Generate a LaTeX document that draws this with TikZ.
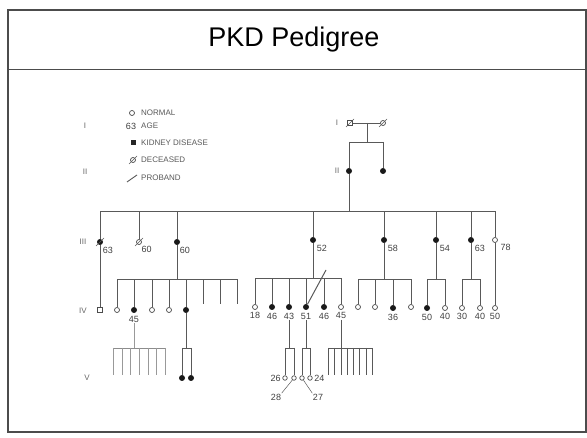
\documentclass[tikz,border=0pt]{standalone}
\usepackage{fontspec}
\setmainfont{Liberation Sans}
\setsansfont{Liberation Sans}
\usetikzlibrary{positioning}
\tikzset{
  kin/.style={draw=black!65,line width=0.9pt},
  normal/.style={circle,draw=black!70,fill=white,line width=0.7pt,inner sep=0pt,minimum size=5pt},
  small/.style={normal,minimum size=4.5pt},
  affected/.style={circle,fill=black!90,inner sep=0pt,minimum size=6pt},
  boxnormal/.style={rectangle,draw=black!70,fill=white,line width=0.7pt,inner sep=0pt,minimum size=5pt},
  dead/.style={append after command={([shift={(-4pt,-4pt)}]\tikzlastnode.center) edge[kin,line width=0.6pt] ([shift={(4pt,4pt)}]\tikzlastnode.center)}},
  age/.style={font=\fontsize{9}{9}\selectfont,text=black!75,inner sep=0.5pt},
  gen/.style={font=\fontsize{8}{9}\selectfont,text=black!60},
  key/.style={font=\fontsize{8}{9}\selectfont,text=black!65,anchor=west,inner sep=0pt},
}
\begin{document}
\begin{tikzpicture}[x=1pt,y=-1pt]
  \useasboundingbox (0,0) rectangle (587,438);
  % frame and title
  \draw[line width=1.5pt,black!70] (8,10) rectangle (586,432);
  \draw[line width=1pt,black!70] (8,70) -- (586,70);
  \node (title) at (294,40) {\fontsize{27}{32}\selectfont PKD Pedigree};

  % legend
  \node[normal] (lgn) at (132,113) {};
  \node[key] (lgnt) at (141,113) {NORMAL};
  \node[age] (lga) at (131,126) {63};
  \node[key] (lgat) at (141,126) {AGE};
  \node[rectangle,fill=black!85,inner sep=0pt,minimum size=5pt] (lgk) at (133,143) {};
  \node[key] (lgkt) at (141,143) {KIDNEY DISEASE};
  \node[normal,dead] (lgd) at (133,160) {};
  \node[key] (lgdt) at (141,160) {DECEASED};
  \coordinate (lgp1) at (127,182);
  \coordinate (lgp2) at (137,175);
  \draw[kin] (lgp1) -- (lgp2);
  \node[key] (lgpt) at (141,178) {PROBAND};
  \node[gen] (gI) at (85,126) {I};
  \node[gen] (gII) at (85,172) {II};

  % generation I and II
  \node[gen] (lI) at (337,123) {I};
  \node[boxnormal,dead] (i1) at (350,123) {};
  \node[normal,dead] (i2) at (383,123) {};
  \coordinate (m1) at (367,123);
  \coordinate (b2l) at (349,142);
  \coordinate (b2r) at (383,142);
  \node[gen] (lII) at (337,171) {II};
  \node[affected] (ii1) at (349,171) {};
  \node[affected] (ii2) at (383,171) {};
  \draw[kin] (i1) -- (i2);
  \draw[kin] (m1) -- (m1 |- b2l);
  \draw[kin] (b2l) -- (b2r);
  \draw[kin] (b2l) -- (ii1);
  \draw[kin] (b2r) -- (ii2);

  % generation III
  \coordinate (b3l) at (100,211);
  \coordinate (b3r) at (495,211);
  \draw[kin] (b3l) -- (b3r);
  \draw[kin] (ii1) -- (ii1 |- b3l);
  \node[gen] (lIII) at (83,242) {III};
  \node[affected,dead] (iii1) at (100,242) {};
  \node[normal,dead] (iii2) at (139,242) {};
  \node[affected] (iii3) at (177,242) {};
  \node[affected] (iii4) at (313,240) {};
  \node[affected] (iii5) at (384,240) {};
  \node[affected] (iii6) at (436,240) {};
  \node[affected] (iii7) at (471,240) {};
  \node[normal] (iii8) at (495,240) {};
  \foreach \p in {iii1,iii2,iii3,iii4,iii5,iii6,iii7,iii8}
    \draw[kin] (\p) -- (\p |- b3l);
  \node[age,below right=2pt and 0pt of iii1] (a1) {63};
  \node[age,below right=2pt and 0pt of iii2] (a2) {60};
  \node[age,below right=2pt and 0pt of iii3] (a3) {60};
  \node[age,below right=2pt and 1pt of iii4] (a4) {52};
  \node[age,below right=2pt and 1pt of iii5] (a5) {58};
  \node[age,below right=2pt and 1pt of iii6] (a6) {54};
  \node[age,below right=2pt and 1pt of iii7] (a7) {63};
  \node[age,below right=2pt and 3pt of iii8] (a8) {78};

  % generation IV
  \node[gen] (lIV) at (83,311) {IV};
  \node[boxnormal] (iv1) at (100,310) {};
  \draw[kin] (iii1) -- (iv1);
  \coordinate (b4a) at (117,279);
  \coordinate (b4b) at (237,279);
  \draw[kin] (b4a) -- (b4b);
  \draw[kin] (iii3) -- (iii3 |- b4a);
  \node[normal] (iv2) at (117,310) {};
  \node[affected] (iv3) at (134,310) {};
  \node[normal] (iv4) at (152,310) {};
  \node[normal] (iv5) at (169,310) {};
  \node[affected] (iv6) at (186,310) {};
  \coordinate (iv7) at (203,304);
  \coordinate (iv8) at (220,304);
  \coordinate (iv9) at (237,304);
  \foreach \p in {iv2,iv3,iv4,iv5,iv6,iv7,iv8,iv9}
    \draw[kin] (\p) -- (\p |- b4a);
  \node[age,below=2pt of iv3] (a9) {45};

  \coordinate (b4c) at (255,278);
  \coordinate (b4d) at (341,278);
  \draw[kin] (b4c) -- (b4d);
  \draw[kin] (iii4) -- (iii4 |- b4c);
  \node[normal] (iv10) at (255,307) {};
  \node[affected] (iv11) at (272,307) {};
  \node[affected] (iv12) at (289,307) {};
  \node[affected] (iv13) at (306,307) {};
  \node[affected] (iv14) at (324,307) {};
  \node[normal] (iv15) at (341,307) {};
  \foreach \p in {iv10,iv11,iv12,iv13,iv14,iv15}
    \draw[kin] (\p) -- (\p |- b4c);
  \coordinate (prb) at (326,270);
  \draw[kin,line width=1pt] (prb) -- (iv13);
  \node[age,below=2pt of iv10] (a10) {18};
  \node[age,below=2pt of iv11] (a11) {46};
  \node[age,below=2pt of iv12] (a12) {43};
  \node[age,below=2pt of iv13] (a13) {51};
  \node[age,below=2pt of iv14] (a14) {46};
  \node[age,below=2pt of iv15] (a15) {45};

  \coordinate (b4e) at (358,279);
  \coordinate (b4f) at (411,279);
  \draw[kin] (b4e) -- (b4f);
  \draw[kin] (iii5) -- (iii5 |- b4e);
  \node[normal] (iv16) at (358,307) {};
  \node[normal] (iv17) at (375,307) {};
  \node[affected] (iv18) at (393,308) {};
  \node[normal] (iv19) at (411,307) {};
  \foreach \p in {iv16,iv17,iv18,iv19}
    \draw[kin] (\p) -- (\p |- b4e);
  \node[age,below=2pt of iv18] (a18) {36};

  \coordinate (b4g) at (427,279);
  \coordinate (b4h) at (445,279);
  \draw[kin] (b4g) -- (b4h);
  \draw[kin] (iii6) -- (iii6 |- b4g);
  \node[affected] (iv20) at (427,308) {};
  \node[normal] (iv21) at (445,308) {};
  \coordinate (b4i) at (462,279);
  \coordinate (b4j) at (480,279);
  \draw[kin] (b4i) -- (b4j);
  \draw[kin] (iii7) -- (iii7 |- b4i);
  \node[normal] (iv22) at (462,308) {};
  \node[normal] (iv23) at (480,308) {};
  \node[normal] (iv24) at (495,308) {};
  \foreach \p in {iv20,iv21}
    \draw[kin] (\p) -- (\p |- b4g);
  \foreach \p in {iv22,iv23}
    \draw[kin] (\p) -- (\p |- b4i);
  \draw[kin] (iii8) -- (iv24);
  \node[age,below=2pt of iv20] (a20) {50};
  \node[age,below=2pt of iv21] (a21) {40};
  \node[age,below=2pt of iv22] (a22) {30};
  \node[age,below=2pt of iv23] (a23) {40};
  \node[age,below=2pt of iv24] (a24) {50};

  % generation V
  \node[gen] (lV) at (87,378) {V};
  \coordinate (b5a) at (113,348);
  \coordinate (b5b) at (165,348);
  \draw[kin,black!45] (b5a) -- (b5b);
  \draw[kin,black!40] (a9) -- (a9 |- b5a);
  \foreach \x in {113,122,130,139,148,156,165}
    \draw[kin,black!40] (\x,348) -- (\x,375);

  \coordinate (b5c) at (182,348);
  \coordinate (b5d) at (191,348);
  \draw[kin] (b5c) -- (b5d);
  \draw[kin] (iv6) -- (iv6 |- b5c);
  \node[affected] (v1) at (182,378) {};
  \node[affected] (v2) at (191,378) {};
  \draw[kin] (b5c) -- (v1);
  \draw[kin] (b5d) -- (v2);

  \coordinate (b5e) at (285,348);
  \coordinate (b5f) at (294,348);
  \coordinate (b5g) at (302,348);
  \coordinate (b5h) at (310,348);
  \draw[kin] (b5e) -- (b5f);
  \draw[kin] (b5g) -- (b5h);
  \draw[kin] (a12) -- (a12 |- b5e);
  \draw[kin] (a13) -- (a13 |- b5g);
  \node[small] (v3) at (285,378) {};
  \node[small] (v4) at (294,378) {};
  \node[small] (v5) at (302,378) {};
  \node[small] (v6) at (310,378) {};
  \draw[kin] (b5e) -- (v3);
  \draw[kin] (b5f) -- (v4);
  \draw[kin] (b5g) -- (v5);
  \draw[kin] (b5h) -- (v6);
  \node[age,left=1pt of v3] (a26) {26};
  \node[age,right=1pt of v6] (a27r) {24};
  \node[age] (a28) at (276,397) {28};
  \node[age] (a29) at (318,397) {27};
  \draw[kin,line width=0.5pt] (a28.north east) -- (v4);
  \draw[kin,line width=0.5pt] (a29.north west) -- (v5);

  \coordinate (b5i) at (328,348);
  \coordinate (b5j) at (372,348);
  \draw[kin] (b5i) -- (b5j);
  \draw[kin] (a15) -- (a15 |- b5i);
  \foreach \x in {328,334,341,347,353,359,366,372}
    \draw[kin] (\x,348) -- (\x,375);
\end{tikzpicture}
\end{document}
